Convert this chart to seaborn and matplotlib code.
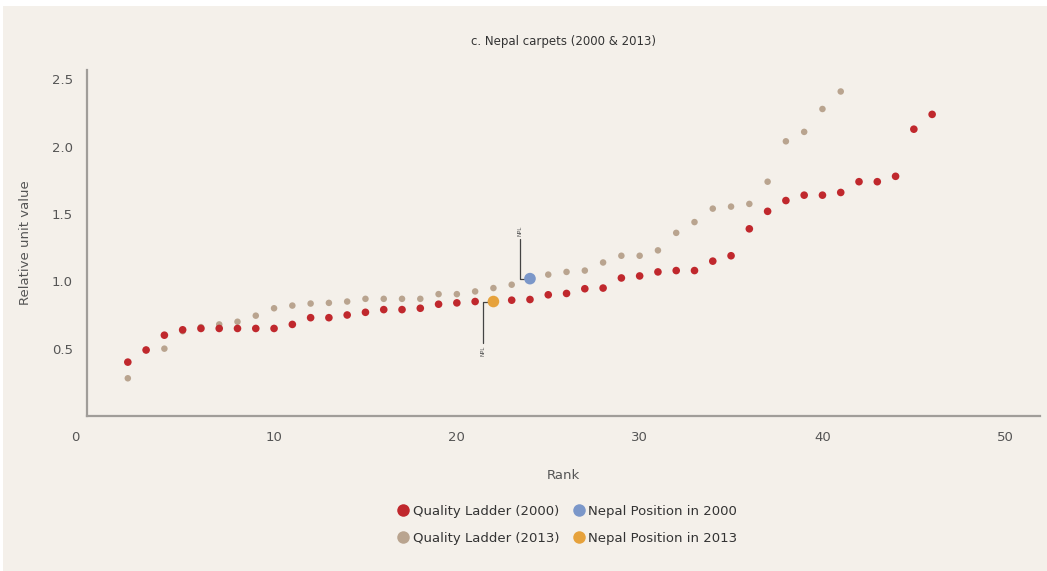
import numpy as np
import pandas as pd
import matplotlib
matplotlib.use("Agg")
import matplotlib.pyplot as plt
from matplotlib.patches import Rectangle
from matplotlib.lines import Line2D
from matplotlib.transforms import ScaledTranslation
import seaborn as sns

# ---- data ----
ranks_2000 = list(range(2, 47))
values_2000 = [0.40, 0.49, 0.60, 0.64, 0.65, 0.65, 0.65, 0.65, 0.65, 0.68,
               0.73, 0.73, 0.75, 0.77, 0.79, 0.79, 0.80, 0.83, 0.84, 0.85,
               0.85, 0.86, 0.865, 0.90, 0.91, 0.945, 0.95, 1.025, 1.04, 1.07,
               1.08, 1.08, 1.15, 1.19, 1.39, 1.52, 1.60, 1.64, 1.64, 1.66,
               1.74, 1.74, 1.78, 2.13, 2.24]
ranks_2013 = list(range(2, 42))
values_2013 = [0.28, 0.49, 0.50, 0.63, 0.66, 0.68, 0.70, 0.745, 0.80, 0.82,
               0.835, 0.84, 0.85, 0.87, 0.87, 0.87, 0.87, 0.905, 0.905, 0.925,
               0.95, 0.975, 1.02, 1.05, 1.07, 1.08, 1.14, 1.19, 1.19, 1.23,
               1.36, 1.44, 1.54, 1.555, 1.575, 1.74, 2.04, 2.11, 2.28, 2.41]
nepal_2000 = (24, 1.02)
nepal_2013 = (22, 0.85)

legend_labels = ["Quality Ladder (2000)", "Quality Ladder (2013)",
                 "Nepal Position in 2000", "Nepal Position in 2013"]
title = "c. Nepal carpets (2000 & 2013)"
xlabel = "Rank"
ylabel = "Relative unit value"
xticks = [0, 10, 20, 30, 40, 50]
yticks = [0.5, 1.0, 1.5, 2.0, 2.5]

# ---- style ----
sns.set_style("white")
plt.rcParams['font.family'] = ['DejaVu Sans']
RED = "#c0282d"
TAN = "#b9a48f"
BLUE = "#7b97c9"
ORANGE = "#e6a23c"
BG = "#f4f0ea"
GRAY = "#555555"

fig = plt.figure(figsize=(10.47, 5.71), dpi=100)
fig.patch.set_facecolor("white")
fig.patches.append(Rectangle((3 / 1047, 0), 1, 1 - 6 / 571, transform=fig.transFigure,
                             facecolor=BG, edgecolor="none", zorder=-10))
ax = fig.add_axes([0.0828, 0.2715, 0.9105, 0.606])
ax.set_facecolor("none")

df00 = pd.DataFrame({"rank": ranks_2000, "value": values_2000})
df13 = pd.DataFrame({"rank": ranks_2013, "value": values_2013})
sns.scatterplot(data=df13, x="rank", y="value", ax=ax, color=TAN, s=22,
                edgecolor="none", zorder=3)
sns.scatterplot(data=df00, x="rank", y="value", ax=ax, color=RED, s=30,
                edgecolor="none", zorder=4)
sns.scatterplot(x=[nepal_2000[0]], y=[nepal_2000[1]], ax=ax, color=BLUE, s=70,
                edgecolor="none", zorder=5)
sns.scatterplot(x=[nepal_2013[0]], y=[nepal_2013[1]], ax=ax, color=ORANGE, s=70,
                edgecolor="none", zorder=5)

# leader lines to Nepal labels
ax.annotate("NPL", xy=nepal_2000, xytext=(nepal_2000[0] - 0.55, nepal_2000[1] + 0.32),
            fontsize=4, rotation=90, color=GRAY, ha="center", va="bottom",
            arrowprops=dict(arrowstyle="-", color="#444444", lw=0.9,
                            connectionstyle="angle,angleA=90,angleB=0,rad=0",
                            shrinkA=0, shrinkB=4))
ax.annotate("NPL", xy=nepal_2013, xytext=(nepal_2013[0] - 0.55, nepal_2013[1] - 0.33),
            fontsize=4, rotation=90, color=GRAY, ha="center", va="top",
            arrowprops=dict(arrowstyle="-", color="#444444", lw=0.9,
                            connectionstyle="angle,angleA=90,angleB=0,rad=0",
                            shrinkA=0, shrinkB=4))

ax.set_xlim(-0.25, 51.9)
ax.set_ylim(0, 2.57)
ax.set_xticks(xticks)
ax.set_xticklabels([str(t) for t in xticks])
ax.set_yticks(yticks)
ax.set_yticklabels([f"{t:.1f}" for t in yticks])
for side in ["top", "right"]:
    ax.spines[side].set_visible(False)
for side in ["left", "bottom"]:
    ax.spines[side].set_color("#a09d99")
    ax.spines[side].set_linewidth(1.6)
ax.tick_params(axis="both", colors="#a09d99", labelcolor=GRAY, labelsize=9.5,
               length=5, width=1)
ax.tick_params(axis="x", direction="inout", pad=8)
ax.tick_params(axis="y", direction="out", pad=5)

# the origin label sits at the corner, left of the 0 tick
zero_lbl = ax.get_xticklabels()[0]
zero_lbl.set_transform(zero_lbl.get_transform() +
                       ScaledTranslation(-0.16, 0, fig.dpi_scale_trans))

ax.set_xlabel(xlabel, fontsize=9.5, color=GRAY, labelpad=18)
ax.set_ylabel(ylabel, fontsize=9.5, color=GRAY, labelpad=14)
ax.set_title(title, fontsize=8.5, color="#333333", pad=18)

handles = [Line2D([], [], marker="o", linestyle="none", markersize=9,
                  markerfacecolor=c, markeredgecolor="none")
           for c in [RED, TAN, BLUE, ORANGE]]
fig.legend(handles, legend_labels, loc="upper center", ncol=2,
           bbox_to_anchor=(0.5415, 0.137), frameon=False, fontsize=9.5,
           handletextpad=0.2, columnspacing=1.0, labelspacing=1.05,
           labelcolor="#333333", handlelength=1.0)

fig.savefig("out.png", dpi=100, facecolor=fig.get_facecolor())
